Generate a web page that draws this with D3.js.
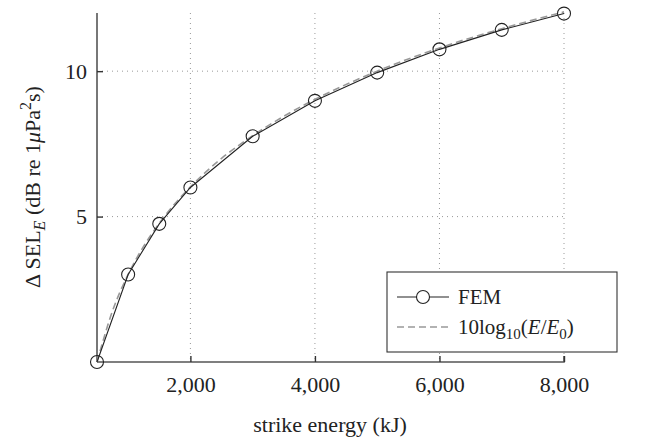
<!DOCTYPE html>
<html><head><meta charset="utf-8">
<script src="https://cdn.jsdelivr.net/npm/d3@7"></script>
<style>body{margin:0;background:#fff}svg{display:block}</style>
</head><body><svg id="c" width="665" height="441"></svg>
<script>
const femEnergy = [500, 1000, 1500, 2000, 3000, 4000, 5000, 6000, 7000, 8000];
const femSEL = [0, 3.01, 4.75, 6.0, 7.76, 8.98, 9.95, 10.75, 11.42, 11.98];
const logEnergy = [500, 750, 1000, 1250, 1500, 1750, 2000, 2500, 3000, 3500, 4000, 5000, 6000, 7000, 8000];
const logSEL = [0, 1.76, 3.01, 3.98, 4.77, 5.44, 6.02, 7.0, 7.78, 8.45, 9.03, 10.0, 10.8, 11.46, 12.04];
const xTicks = [2000, 4000, 6000, 8000];
const yTicks = [5, 10];

const FONT = "Liberation Serif";
const svg = d3.select("#c");
const x = d3.scaleLinear().domain([500, 8000]).range([97, 564]);
const y = d3.scaleLinear().domain([0, 12]).range([362, 13]);

// grid
const g = svg.append("g");
g.selectAll(".gx").data(xTicks).join("line")
  .attr("x1", d => x(d)).attr("x2", d => x(d)).attr("y1", y(12)).attr("y2", y(0))
  .attr("stroke", "#999").attr("stroke-width", 1).attr("stroke-dasharray", "1,4");
g.selectAll(".gy").data(yTicks).join("line")
  .attr("x1", x(500)).attr("x2", x(8000)).attr("y1", d => y(d)).attr("y2", d => y(d))
  .attr("stroke", "#999").attr("stroke-width", 1).attr("stroke-dasharray", "1,4");

// axes
const xAxis = svg.append("g").attr("transform", `translate(0,${y(0)})`)
  .call(d3.axisBottom(x).tickValues(xTicks).tickSize(-6).tickPadding(14).tickFormat(d3.format(",")));
const yAxis = svg.append("g").attr("transform", `translate(${x(500)},0)`)
  .call(d3.axisLeft(y).tickValues(yTicks).tickSize(-6).tickPadding(10));
[xAxis, yAxis].forEach(a => {
  a.attr("font-family", FONT).attr("font-size", 22);
  a.select(".domain").attr("stroke", "#555").attr("stroke-width", 1.6);
  a.selectAll(".tick line").attr("stroke", "#333").attr("stroke-width", 1.4);
  a.selectAll(".tick text").attr("font-family", FONT).attr("font-size", 22).attr("fill", "#222");
});
xAxis.select(".domain").attr("d", `M${x(500)},0H${x(8000)}V-6`);
yAxis.select(".domain").attr("d", `M0,${y(0)}V${y(12)}`);

// lines
const logLine = d3.line().x((d, i) => x(logEnergy[i])).y(d => y(d)).curve(d3.curveMonotoneX);
svg.append("path").attr("d", logLine(logSEL)).attr("fill", "none")
  .attr("stroke", "#999").attr("stroke-width", 1.6).attr("stroke-dasharray", "7,4");
const femLine = d3.line().x((d, i) => x(femEnergy[i])).y(d => y(d));
svg.append("path").attr("d", femLine(femSEL)).attr("fill", "none")
  .attr("stroke", "#222").attr("stroke-width", 1.1);
svg.selectAll(".pt").data(femSEL).join("circle")
  .attr("cx", (d, i) => x(femEnergy[i])).attr("cy", d => y(d)).attr("r", 6.5)
  .attr("fill", "none").attr("stroke", "#222").attr("stroke-width", 1.1);

// axis labels
svg.append("text").attr("x", 330).attr("y", 432).attr("text-anchor", "middle")
  .attr("font-family", FONT).attr("font-size", 22).attr("fill", "#222").text("strike energy (kJ)");
const yl = svg.append("text").attr("transform", "translate(40,187) rotate(-90)")
  .attr("text-anchor", "middle").attr("font-family", FONT).attr("font-size", 22).attr("fill", "#222");
yl.append("tspan").text("Δ SEL");
yl.append("tspan").attr("font-style", "italic").attr("font-size", 16).attr("dy", 5).text("E");
yl.append("tspan").attr("dy", -5).text(" (dB re 1");
yl.append("tspan").attr("font-style", "italic").text("μ");
yl.append("tspan").text("Pa");
yl.append("tspan").attr("font-size", 16).attr("dy", -9).text("2");
yl.append("tspan").attr("dy", 9).text("s)");

// legend
const lg = svg.append("g");
lg.append("rect").attr("x", 387).attr("y", 272).attr("width", 230).attr("height", 80)
  .attr("fill", "#fff").attr("stroke", "#333").attr("stroke-width", 1.1);
lg.append("line").attr("x1", 397).attr("x2", 449).attr("y1", 297).attr("y2", 297)
  .attr("stroke", "#222").attr("stroke-width", 1.1);
lg.append("circle").attr("cx", 423).attr("cy", 297).attr("r", 6.5).attr("fill", "#fff")
  .attr("stroke", "#222").attr("stroke-width", 1.1);
lg.append("text").attr("x", 458).attr("y", 304).attr("font-family", FONT).attr("font-size", 21).attr("fill", "#222").text("FEM");
lg.append("line").attr("x1", 397).attr("x2", 449).attr("y1", 327).attr("y2", 327)
  .attr("stroke", "#999").attr("stroke-width", 1.6).attr("stroke-dasharray", "7,4");
const lt = lg.append("text").attr("x", 458).attr("y", 334).attr("font-family", FONT).attr("font-size", 21).attr("fill", "#222");
lt.append("tspan").text("10log");
lt.append("tspan").attr("font-size", 15).attr("dy", 5).text("10");
lt.append("tspan").attr("dy", -5).text("(");
lt.append("tspan").attr("font-style", "italic").text("E");
lt.append("tspan").text("/");
lt.append("tspan").attr("font-style", "italic").text("E");
lt.append("tspan").attr("font-size", 15).attr("dy", 5).text("0");
lt.append("tspan").attr("dy", -5).text(")");
</script></body></html>
